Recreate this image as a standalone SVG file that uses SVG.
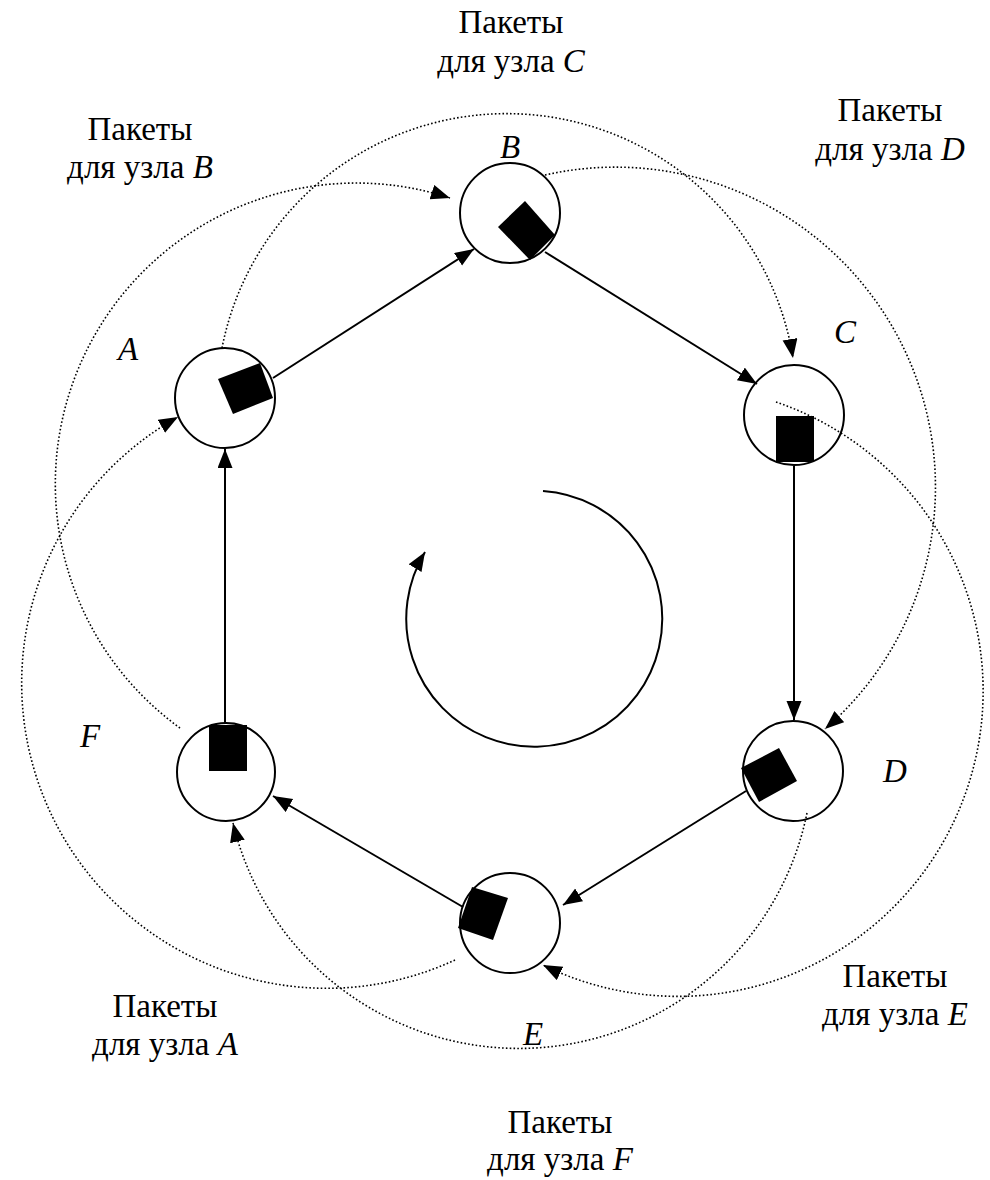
<svg xmlns="http://www.w3.org/2000/svg" width="990" height="1180" viewBox="0 0 990 1180">
<style>
.lbl{font-family:"Liberation Serif","Times New Roman",serif;font-size:33px;fill:#000;text-anchor:middle}
.nl{font-family:"Liberation Serif","Times New Roman",serif;font-size:33px;font-style:italic;fill:#000;text-anchor:middle}
.node{fill:none;stroke:#000;stroke-width:2}
.sq{fill:#000}
.solid{fill:none;stroke:#000;stroke-width:2;marker-end:url(#ah)}
.dot{fill:none;stroke:#000;stroke-width:1.6;stroke-dasharray:1.6 2.2;marker-end:url(#ah)}
</style>
<defs>
<marker id="ah" markerUnits="userSpaceOnUse" markerWidth="22" markerHeight="18" refX="19" refY="7.5" orient="auto">
<path d="M0,0 L19,7.5 L0,15 z" fill="#000"/>
</marker>
</defs>
<rect width="990" height="1180" fill="#fff"/>
<g id="labels">
<text class="lbl" x="511" y="33">Пакеты</text>
<text class="lbl" x="511" y="72">для узла <tspan font-style="italic">C</tspan></text>
<text class="lbl" x="140" y="140">Пакеты</text>
<text class="lbl" x="140" y="178">для узла <tspan font-style="italic">B</tspan></text>
<text class="lbl" x="890" y="121">Пакеты</text>
<text class="lbl" x="890" y="160">для узла <tspan font-style="italic">D</tspan></text>
<text class="lbl" x="165" y="1017">Пакеты</text>
<text class="lbl" x="165" y="1055">для узла <tspan font-style="italic">A</tspan></text>
<text class="lbl" x="895" y="987">Пакеты</text>
<text class="lbl" x="895" y="1025">для узла <tspan font-style="italic">E</tspan></text>
<text class="lbl" x="560" y="1133">Пакеты</text>
<text class="lbl" x="560" y="1170">для узла <tspan font-style="italic">F</tspan></text>
</g>
<g id="nodeA"><circle class="node" cx="225" cy="398" r="50"/><polygon class="sq" points="218,379 260,363 273,398 233,414"/><text class="nl" x="128" y="360">A</text></g>
<g id="nodeB"><circle class="node" cx="510" cy="213" r="50"/><polygon class="sq" points="525,201 555,235 530,260 498,227"/><text class="nl" x="510" y="158">B</text></g>
<g id="nodeC"><circle class="node" cx="794" cy="415" r="50"/><rect class="sq" x="776" y="416" width="38" height="46"/><text class="nl" x="845" y="343">C</text></g>
<g id="nodeD"><circle class="node" cx="793" cy="771" r="50"/><polygon class="sq" points="779,748 797,781 759,802 741,768"/><text class="nl" x="895" y="782">D</text></g>
<g id="nodeE"><circle class="node" cx="510" cy="923" r="50"/><polygon class="sq" points="472,887 508,898 493,940 458,928"/><text class="nl" x="533" y="1045">E</text></g>
<g id="nodeF"><circle class="node" cx="226" cy="772" r="49"/><rect class="sq" x="209" y="725" width="38" height="46"/><text class="nl" x="90" y="747">F</text></g>
<g id="connectors">
<line class="solid" x1="273" y1="378" x2="474" y2="249"/>
<line class="solid" x1="545" y1="252" x2="757" y2="384"/>
<line class="solid" x1="794" y1="466" x2="794" y2="720"/>
<line class="solid" x1="746" y1="791" x2="563" y2="905"/>
<line class="solid" x1="463" y1="907" x2="273" y2="796"/>
<line class="solid" x1="225" y1="723" x2="225" y2="449"/>
<path class="dot" d="M180,728 A301,301 0 0 1 450,198"/>
<path class="dot" d="M222,348 A290,290 0 0 1 793,358"/>
<path class="dot" d="M545,175 A320,320 0 0 1 825,729"/>
<path class="dot" d="M776,402 A305.3,305.3 0 1 1 543,965"/>
<path class="dot" d="M807,813 A294,294 0 0 1 233,823"/>
<path class="dot" d="M455,960 A305,305 0 0 1 178,417"/>
<path class="solid" d="M543,491 A128,128 0 1 1 425,552"/>
</g>
</svg>
